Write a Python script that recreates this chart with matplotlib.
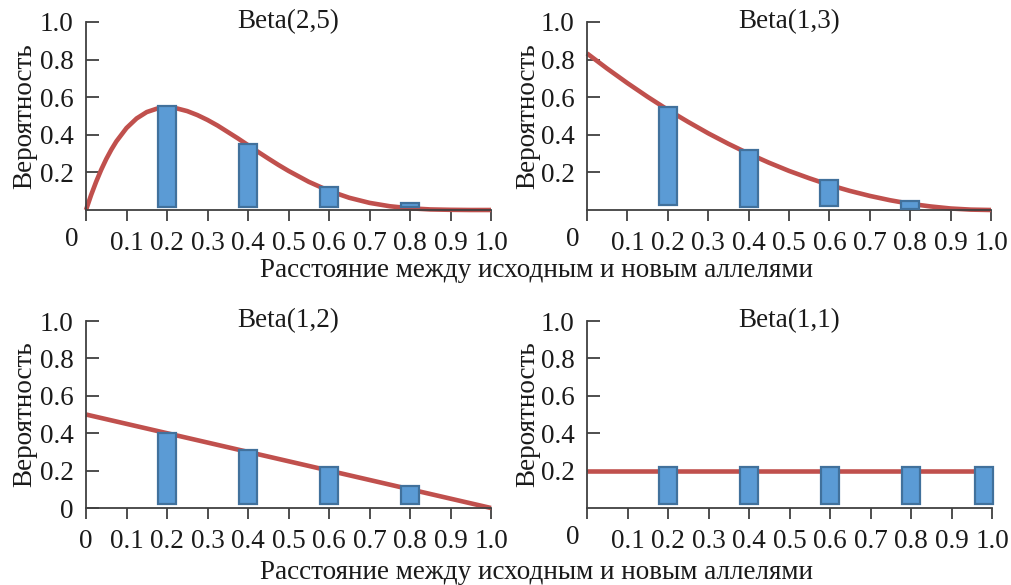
import matplotlib
matplotlib.use("Agg")
import matplotlib.pyplot as plt

plt.rcParams['font.family'] = ['Liberation Serif', 'DejaVu Serif']

# ---------------- data ----------------
titles = ["Beta(2,5)", "Beta(1,3)", "Beta(1,2)", "Beta(1,1)"]

# smooth curves
curve25_x = [0.0, 0.0125, 0.025, 0.0375, 0.05, 0.0625, 0.075, 0.1, 0.125, 0.15, 0.175,
             0.2, 0.225, 0.25, 0.275, 0.3, 0.325, 0.35, 0.375, 0.4, 0.425, 0.45, 0.475,
             0.5, 0.55, 0.6, 0.65, 0.7, 0.75, 0.8, 0.85, 0.9, 0.95, 1.0]
curve25_y = [0.0, 0.079, 0.150, 0.214, 0.271, 0.321, 0.365, 0.436, 0.487, 0.521, 0.539,
             0.545, 0.540, 0.526, 0.505, 0.479, 0.449, 0.415, 0.381, 0.345, 0.309, 0.274, 0.240,
             0.208, 0.150, 0.102, 0.065, 0.038, 0.020, 0.009, 0.003, 0.001, 0.0, 0.0]

curve13_x = [0.0, 0.05, 0.1, 0.15, 0.2, 0.25, 0.3, 0.35, 0.4, 0.45, 0.5,
             0.55, 0.6, 0.65, 0.7, 0.75, 0.8, 0.85, 0.9, 0.95, 1.0]
curve13_y = [0.833, 0.752, 0.675, 0.602, 0.533, 0.469, 0.408, 0.352, 0.300, 0.252, 0.208,
             0.169, 0.133, 0.102, 0.075, 0.052, 0.033, 0.019, 0.008, 0.002, 0.0]

curve12_x = [0.0, 1.0]
curve12_y = [0.5, 0.0]

curve11_x = [0.0, 1.0]
curve11_y = [0.2, 0.2]

# bars (floating: base -> top)
bars25_x = [0.2, 0.4, 0.6, 0.8]
bars25_top = [0.553, 0.353, 0.121, 0.037]
bars25_base = [0.018, 0.018, 0.018, 0.018]

bars13_x = [0.2, 0.4, 0.6, 0.8]
bars13_top = [0.546, 0.318, 0.162, 0.050]
bars13_base = [0.028, 0.018, 0.023, 0.005]

bars12_x = [0.2, 0.4, 0.6, 0.8]
bars12_top = [0.400, 0.308, 0.217, 0.119]
bars12_base = [0.021, 0.021, 0.021, 0.021]

bars11_x = [0.2, 0.4, 0.6, 0.8, 0.98]
bars11_top = [0.217, 0.217, 0.217, 0.217, 0.217]
bars11_base = [0.021, 0.021, 0.021, 0.021, 0.021]

x_ticks = [0.0, 0.1, 0.2, 0.3, 0.4, 0.5, 0.6, 0.7, 0.8, 0.9, 1.0]
x_ticklabels = ["0", "0.1", "0.2", "0.3", "0.4", "0.5", "0.6", "0.7", "0.8", "0.9", "1.0"]
y_ticks_top = [0.2, 0.4, 0.6, 0.8, 1.0]
y_ticks_zero = [0.0, 0.2, 0.4, 0.6, 0.8, 1.0]
y_ticklabels_zero = ["0", "0.2", "0.4", "0.6", "0.8", "1.0"]

ylabel = "Вероятность"
xlabel = "Расстояние между исходным и новым аллелями"

# ---------------- style ----------------
FS = 19.5
RED = "#c0504d"
BLUE = "#5b9bd5"
BLUE_EDGE = "#41719c"
AX_COL = "#404040"
TXT = "#1a1a1a"

W, H = 1011, 585
fig = plt.figure(figsize=(W / 100, H / 100), dpi=100)


def px_axes(x0, x1, y_top, y_bot):
    return fig.add_axes([x0 / W, (H - y_bot) / H, (x1 - x0) / W, (y_bot - y_top) / H])


axes = [
    px_axes(86, 491, 22, 210),
    px_axes(587, 991, 22, 210),
    px_axes(86, 491, 321, 508),
    px_axes(587, 992, 321, 508),
]

curves = [(curve25_x, curve25_y), (curve13_x, curve13_y),
          (curve12_x, curve12_y), (curve11_x, curve11_y)]
bars = [(bars25_x, bars25_top, bars25_base), (bars13_x, bars13_top, bars13_base),
        (bars12_x, bars12_top, bars12_base), (bars11_x, bars11_top, bars11_base)]

for i, ax in enumerate(axes):
    cx, cy = curves[i]
    ax.plot(cx, cy, color=RED, lw=3.3, zorder=2, clip_on=False,
            solid_capstyle='butt', solid_joinstyle='round')
    bx, btop, bbase = bars[i]
    heights = [t - b for t, b in zip(btop, bbase)]
    ax.bar(bx, heights, bottom=bbase, width=0.045, color=BLUE,
           edgecolor=BLUE_EDGE, linewidth=1.6, zorder=3, clip_on=False)

    ax.set_xlim(0, 1.0)
    ax.set_ylim(0, 1.0)
    for s in ["top", "right"]:
        ax.spines[s].set_visible(False)
    for s in ["left", "bottom"]:
        ax.spines[s].set_color(AX_COL)
        ax.spines[s].set_linewidth(1.3)
    ax.set_xticks(x_ticks)
    if i == 2:
        ax.set_xticklabels(x_ticklabels)
        ax.set_yticks(y_ticks_zero)
        ax.set_yticklabels(y_ticklabels_zero)
    else:
        ax.set_xticklabels([""] + x_ticklabels[1:])
        ax.set_yticks(y_ticks_top)
        ax.set_yticklabels(y_ticklabels_zero[1:])
        ax.text(-14 / 405, -30 / 188, "0", transform=ax.transAxes, ha="center",
                va="center", fontsize=FS, color=TXT)
    ax.tick_params(axis="x", direction="out", length=8, width=1.3, color=AX_COL,
                   labelsize=FS, pad=7, labelcolor=TXT)
    ax.tick_params(axis="y", direction="in", length=9, width=1.3, color=AX_COL,
                   labelsize=FS, pad=9, labelcolor=TXT)
    ax.text(0.5, 1.0, titles[i], transform=ax.transAxes, ha="center", va="center",
            fontsize=FS, color=TXT)

# y labels
for (x, y) in [(25, 116), (528, 116), (25, 414), (528, 414)]:
    fig.text(x / W, (H - y) / H, ylabel, rotation=90, ha="center", va="center",
             fontsize=FS, color=TXT)

# x labels (baseline placement)
for y in [277, 579]:
    fig.text(536 / W, (H - y) / H, xlabel, ha="center", va="baseline",
             fontsize=FS, color=TXT)

fig.savefig("out.png", dpi=100)
